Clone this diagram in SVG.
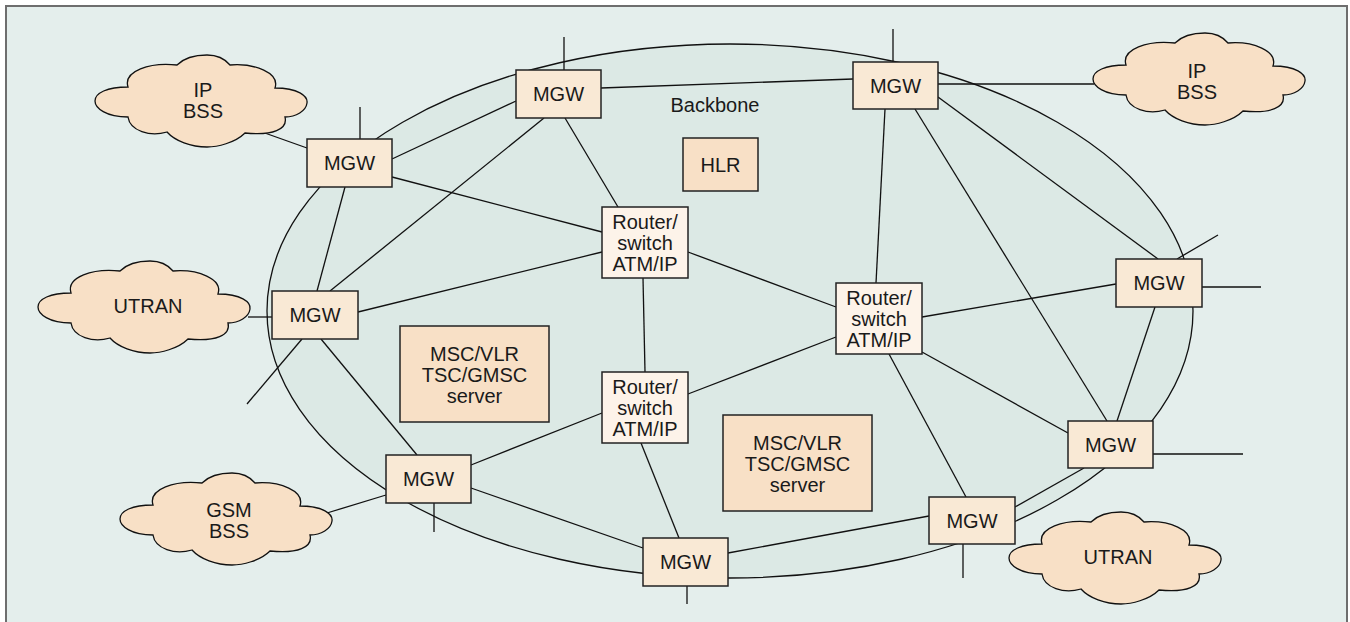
<svg xmlns="http://www.w3.org/2000/svg" xmlns:xlink="http://www.w3.org/1999/xlink" width="1350" height="622" viewBox="0 0 1350 622">
  <style>
    .frame { fill: #e4eeec; stroke: #6e6e6e; stroke-width: 2; }
    .ring { fill: #dce9e5; stroke: #111; stroke-width: 1.3; }
    .link { stroke: #111; stroke-width: 1.3; fill: none; }
    .mgw { fill: #f9e9d5; stroke: #222; stroke-width: 1.5; }
    .rtr { fill: #fdf3e9; stroke: #222; stroke-width: 1.5; }
    .srv { fill: #f8e0c6; stroke: #222; stroke-width: 1.5; }
    .cloud { fill: #f8e0c6; stroke: #111; stroke-width: 1.3; }
    text { font-family: "Liberation Sans", Arial, sans-serif; font-size: 20px; fill: #1a1a1a; text-anchor: middle; }
  </style>
  <defs>
    <!-- cloud outline, 212 x 92 -->
    <path id="cloudShape" d="M33,32 C28,16 55,7 82,10 C90,2 100,0 112,0 C124,0 130,4 135,10 C160,8 185,18 180,33 C203,33 213,41 212,48 C211,56 201,62 190,62 C193,74 178,81 150,78 C140,88 122,92 112,92 C96,92 80,86 72,77 C55,82 35,76 33,62 C11,62 0,53 0,46 C0,38 12,32 33,32 Z"/>
  </defs>

  <!-- frame and backbone ring -->
  <rect class="frame" x="6" y="6" width="1341" height="640"/>
  <ellipse class="ring" cx="730" cy="311" rx="463" ry="267"/>
  <text x="715" y="112">Backbone</text>

  <g id="connectors">
    <!-- stubs -->
    <line class="link" x1="360" y1="107" x2="360" y2="139"/>
    <line class="link" x1="564" y1="37" x2="564" y2="70"/>
    <line class="link" x1="893" y1="29" x2="893" y2="62"/>
    <line class="link" x1="1177" y1="259" x2="1218" y2="235"/>
    <line class="link" x1="1202" y1="287" x2="1261" y2="287"/>
    <line class="link" x1="302" y1="339" x2="247" y2="404"/>
    <line class="link" x1="434" y1="503" x2="434" y2="532"/>
    <line class="link" x1="687" y1="586" x2="687" y2="604"/>
    <line class="link" x1="963" y1="544" x2="963" y2="578"/>
    <line class="link" x1="1153" y1="454" x2="1243" y2="454"/>
    <!-- access networks -->
    <line class="link" x1="262" y1="132" x2="307" y2="148"/>
    <line class="link" x1="938" y1="84" x2="1094" y2="84"/>
    <line class="link" x1="248" y1="317" x2="272" y2="317"/>
    <line class="link" x1="327" y1="513" x2="386" y2="495"/>
    <!-- backbone links -->
    <line class="link" x1="392" y1="159" x2="516" y2="101"/>
    <line class="link" x1="392" y1="177" x2="602" y2="232"/>
    <line class="link" x1="345" y1="187" x2="317" y2="291"/>
    <line class="link" x1="330" y1="291" x2="544" y2="118"/>
    <line class="link" x1="601" y1="88" x2="853" y2="79"/>
    <line class="link" x1="565" y1="118" x2="618" y2="207"/>
    <line class="link" x1="885" y1="109" x2="876" y2="283"/>
    <line class="link" x1="938" y1="97" x2="1158" y2="259"/>
    <line class="link" x1="915" y1="109" x2="1107" y2="421"/>
    <line class="link" x1="922" y1="317" x2="1116" y2="284"/>
    <line class="link" x1="1155" y1="307" x2="1117" y2="421"/>
    <line class="link" x1="358" y1="312" x2="602" y2="252"/>
    <line class="link" x1="688" y1="252" x2="836" y2="307"/>
    <line class="link" x1="643" y1="278" x2="645" y2="372"/>
    <line class="link" x1="836" y1="337" x2="688" y2="394"/>
    <line class="link" x1="922" y1="352" x2="1068" y2="433"/>
    <line class="link" x1="889" y1="354" x2="966" y2="497"/>
    <line class="link" x1="602" y1="413" x2="471" y2="465"/>
    <line class="link" x1="641" y1="443" x2="679" y2="538"/>
    <line class="link" x1="321" y1="339" x2="417" y2="455"/>
    <line class="link" x1="471" y1="488" x2="643" y2="548"/>
    <line class="link" x1="728" y1="553" x2="929" y2="516"/>
    <line class="link" x1="1015" y1="507" x2="1084" y2="468"/>
  </g>

  <g id="mgw-1"><rect class="mgw" x="307" y="139" width="85" height="48"/><text x="349.5" y="170">MGW</text></g>
  <g id="mgw-2"><rect class="mgw" x="516" y="70" width="85" height="48"/><text x="558.5" y="101">MGW</text></g>
  <g id="mgw-3"><rect class="mgw" x="853" y="62" width="85" height="47"/><text x="895.5" y="92.5">MGW</text></g>
  <g id="mgw-4"><rect class="mgw" x="272" y="291" width="86" height="48"/><text x="315" y="322">MGW</text></g>
  <g id="mgw-5"><rect class="mgw" x="1116" y="259" width="86" height="48"/><text x="1159" y="290">MGW</text></g>
  <g id="mgw-6"><rect class="mgw" x="386" y="455" width="85" height="48"/><text x="428.5" y="486">MGW</text></g>
  <g id="mgw-7"><rect class="mgw" x="643" y="538" width="85" height="48"/><text x="685.5" y="569">MGW</text></g>
  <g id="mgw-8"><rect class="mgw" x="929" y="497" width="86" height="47"/><text x="972" y="527.5">MGW</text></g>
  <g id="mgw-9"><rect class="mgw" x="1068" y="421" width="85" height="47"/><text x="1110.5" y="451.5">MGW</text></g>

  <g id="router-1"><rect class="rtr" x="602" y="207" width="86" height="71"/><text x="645" y="229">Router/</text><text x="645" y="250">switch</text><text x="645" y="271">ATM/IP</text></g>
  <g id="router-2"><rect class="rtr" x="836" y="283" width="86" height="71"/><text x="879" y="305">Router/</text><text x="879" y="326">switch</text><text x="879" y="347">ATM/IP</text></g>
  <g id="router-3"><rect class="rtr" x="602" y="372" width="86" height="71"/><text x="645" y="394">Router/</text><text x="645" y="415">switch</text><text x="645" y="436">ATM/IP</text></g>

  <g id="hlr"><rect class="srv" x="683" y="138" width="75" height="53"/><text x="720.5" y="172">HLR</text></g>
  <g id="msc-1"><rect class="srv" x="400" y="326" width="149" height="96"/><text x="474.5" y="361">MSC/VLR</text><text x="474.5" y="382">TSC/GMSC</text><text x="474.5" y="403">server</text></g>
  <g id="msc-2"><rect class="srv" x="723" y="415" width="149" height="96"/><text x="797.5" y="450">MSC/VLR</text><text x="797.5" y="471">TSC/GMSC</text><text x="797.5" y="492">server</text></g>

  <g id="cloud-ipbss-1"><use xlink:href="#cloudShape" class="cloud" x="95" y="55"/><text x="203" y="97">IP</text><text x="203" y="118">BSS</text></g>
  <g id="cloud-ipbss-2"><use xlink:href="#cloudShape" class="cloud" x="1093" y="33"/><text x="1197" y="78">IP</text><text x="1197" y="99">BSS</text></g>
  <g id="cloud-utran-1"><use xlink:href="#cloudShape" class="cloud" x="38" y="261"/><text x="148" y="313">UTRAN</text></g>
  <g id="cloud-gsmbss"><use xlink:href="#cloudShape" class="cloud" x="120" y="473"/><text x="229" y="517">GSM</text><text x="229" y="538">BSS</text></g>
  <g id="cloud-utran-2"><use xlink:href="#cloudShape" class="cloud" x="1009" y="512"/><text x="1118" y="564">UTRAN</text></g>
</svg>
